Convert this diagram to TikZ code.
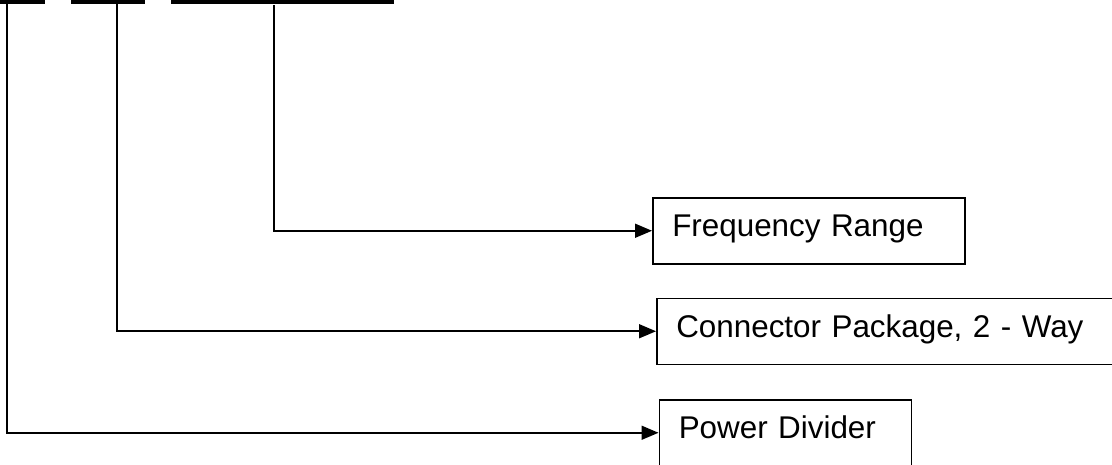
\documentclass[tikz,border=0pt]{standalone}
\usepackage{fontspec}
\setmainfont{Liberation Sans}
\usetikzlibrary{arrows.meta}
\begin{document}
\begin{tikzpicture}[x=1pt,y=-1pt,
  box/.style={draw,line width=1.5pt,anchor=north west,minimum height=66pt,
    inner xsep=19.5pt,inner ysep=0pt,align=left,text height=20pt,text depth=8pt,
    font=\fontsize{31.4}{38}\selectfont},
  bar/.style={line width=4.5pt},
  conn/.style={line width=1.7pt,-{Triangle[length=17pt,width=14pt]}}]
\useasboundingbox (0,0) rectangle (1112,464);
\clip (0,0) rectangle (1112,464);
% top bars
\draw[bar] (0,2) -- (45,2);
\draw[bar] (71,2) -- (145,2);
\draw[bar] (171,2) -- (394,2);
\coordinate (t1) at (7,0);
\coordinate (t2) at (117,0);
\coordinate (t3) at (274,5);
% boxes
\node[box,text width=273pt] (freq) at (652,197) {Frequency Range};
\node[box,text width=425pt] (conn) at (656,297.5) {Connector Package, 2 - Way};
\node[box,text width=213pt] (pow) at (658.5,399) {Power Divider};
% connectors
\draw[conn] (t3) |- (freq.west);
\draw[conn] (t2) |- (conn.west);
\draw[conn] (t1) |- (pow.west);
\end{tikzpicture}
\end{document}
